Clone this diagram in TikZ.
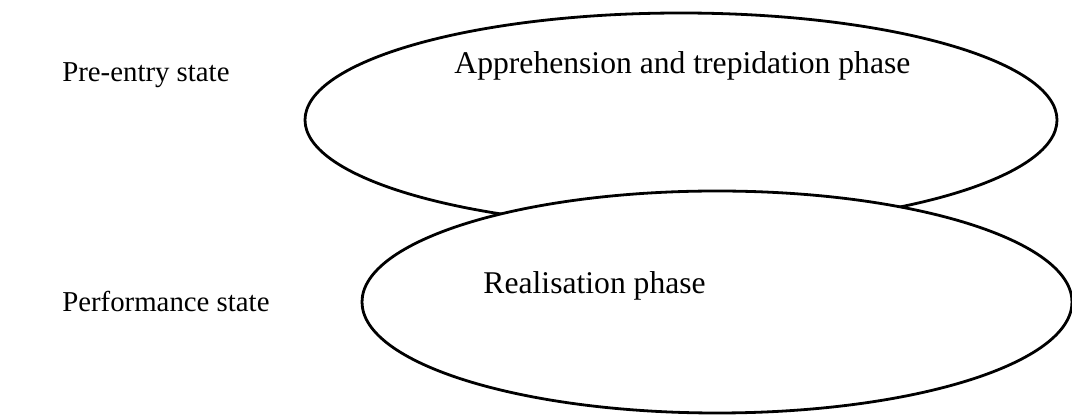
\documentclass[tikz,border=0pt]{standalone}
\usepackage{fontspec}
\setmainfont{Liberation Serif}
\usetikzlibrary{shapes.geometric}

\begin{document}
\begin{tikzpicture}
	\useasboundingbox (0,0) rectangle (26.8,10.4);
	\begin{scope}[every node/.style={ellipse,draw,line width=0.7mm,fill=white,inner sep=0pt}]
	\node[minimum width=18.8cm,minimum height=5.35cm] (A) at (17.025,7.4) {};
	\node[minimum width=17.75cm,minimum height=5.55cm] (B) at (17.925,2.85) {};
	\end{scope}
	\begin{scope}[every node/.style={font=\fontsize{22.5}{27}\selectfont,inner sep=0pt}]
	\node[anchor=base] (a) at (17.06,8.55) {Apprehension and trepidation phase};
	\node[anchor=base west] (r) at (12.08,3.05) {Realisation phase};
	\end{scope}
	\begin{scope}[every node/.style={font=\fontsize{20.5}{24}\selectfont,inner sep=0pt}]
	\node[anchor=base west] (p) at (1.55,8.35) {Pre-entry state};
	\node[anchor=base west] (s) at (1.55,2.6) {Performance state};
	\end{scope}
\end{tikzpicture}
\end{document}
